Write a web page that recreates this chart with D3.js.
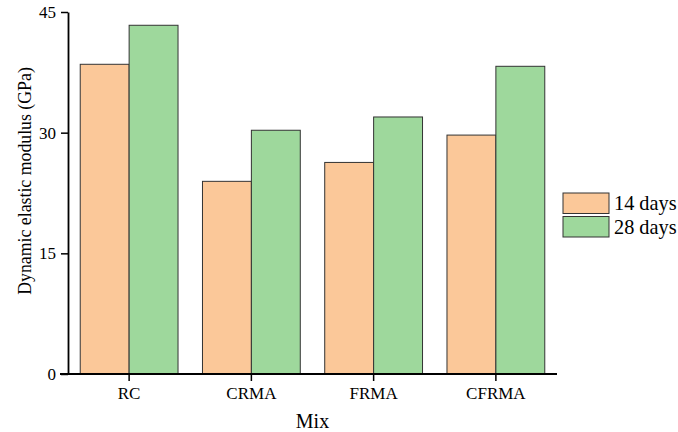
<!DOCTYPE html>
<html>
<head>
<meta charset="utf-8">
<script src="https://cdn.jsdelivr.net/npm/d3@7"></script>
<style>
  html, body { margin: 0; padding: 0; background: #fff; }
  svg text { font-family: "Times New Roman", "Liberation Serif", serif; fill: #000; }
</style>
</head>
<body>
<svg id="chart" width="678" height="432"></svg>
<script>
// Dynamic elastic modulus by mix and curing age
const mixes = ["RC", "CRMA", "FRMA", "CFRMA"];
const seriesNames = ["14 days", "28 days"];
const days14 = [38.5, 23.95, 26.3, 29.7];
const days28 = [43.35, 30.3, 31.95, 38.25];
const yTicks = [0, 15, 30, 45];
const colors = ["#fbc899", "#9ed89c"];

const seriesValues = [days14, days28];
const rows = mixes.map((m, i) => ({ mix: m, values: seriesValues.map(s => s[i]) }));

const svg = d3.select("#chart");
const plotLeft = 68, plotRight = 557, plotTop = 12, plotBottom = 374;
const serif = "'Times New Roman', 'Liberation Serif', serif";

const x = d3.scaleBand().domain(mixes).range([plotLeft, plotRight]).paddingInner(0.2).paddingOuter(0.1);
const xs = d3.scaleBand().domain(seriesNames).range([0, x.bandwidth()]);
const y = d3.scaleLinear().domain([0, 45]).range([plotBottom, plotTop]);

// bars
const groups = svg.append("g").selectAll("g").data(rows).join("g")
  .attr("transform", d => `translate(${x(d.mix)},0)`);
groups.selectAll("rect").data(d => d.values.map((v, j) => ({ v, j })))
  .join("rect")
  .attr("x", d => xs(seriesNames[d.j]))
  .attr("y", d => y(d.v))
  .attr("width", xs.bandwidth())
  .attr("height", d => y(0) - y(d.v))
  .attr("fill", d => colors[d.j])
  .attr("stroke", "#333")
  .attr("stroke-width", 1);

// x axis
const xAxis = svg.append("g").attr("transform", `translate(0,${plotBottom})`)
  .call(d3.axisBottom(x).tickSizeOuter(0).tickSizeInner(7).tickPadding(6));
xAxis.select(".domain").attr("stroke", "#000").attr("stroke-width", 1.8)
  .attr("d", `M${plotLeft - 8},0H${plotRight}`);
xAxis.selectAll(".tick line").attr("stroke", "#000").attr("stroke-width", 1.5);
xAxis.selectAll(".tick text").attr("font-size", 17).attr("font-family", serif).attr("fill", "#000");

// y axis
const yAxis = svg.append("g").attr("transform", `translate(${plotLeft},0)`)
  .call(d3.axisLeft(y).tickValues(yTicks).tickSizeOuter(0).tickSizeInner(7).tickPadding(5));
yAxis.select(".domain").attr("stroke", "#000").attr("stroke-width", 1.8);
yAxis.selectAll(".tick line").attr("stroke", "#000").attr("stroke-width", 1.5);
yAxis.selectAll(".tick text").attr("font-size", 17).attr("font-family", serif).attr("fill", "#000");

// axis titles
svg.append("text")
  .attr("transform", `translate(31,181) rotate(-90)`)
  .attr("text-anchor", "middle")
  .attr("font-size", 17.8)
  .text("Dynamic elastic modulus (GPa)");
svg.append("text")
  .attr("x", (plotLeft + plotRight) / 2).attr("y", 428)
  .attr("text-anchor", "middle")
  .attr("font-size", 20)
  .text("Mix");

// legend
const legend = svg.append("g").attr("transform", "translate(563,193)");
seriesNames.forEach((name, i) => {
  const g = legend.append("g").attr("transform", `translate(0,${i * 23.5})`);
  g.append("rect").attr("width", 46).attr("height", 20.5)
    .attr("fill", colors[i]).attr("stroke", "#333").attr("stroke-width", 1);
  g.append("text").attr("x", 51).attr("y", 17).attr("font-size", 20.3).text(name);
});
</script>
</body>
</html>
